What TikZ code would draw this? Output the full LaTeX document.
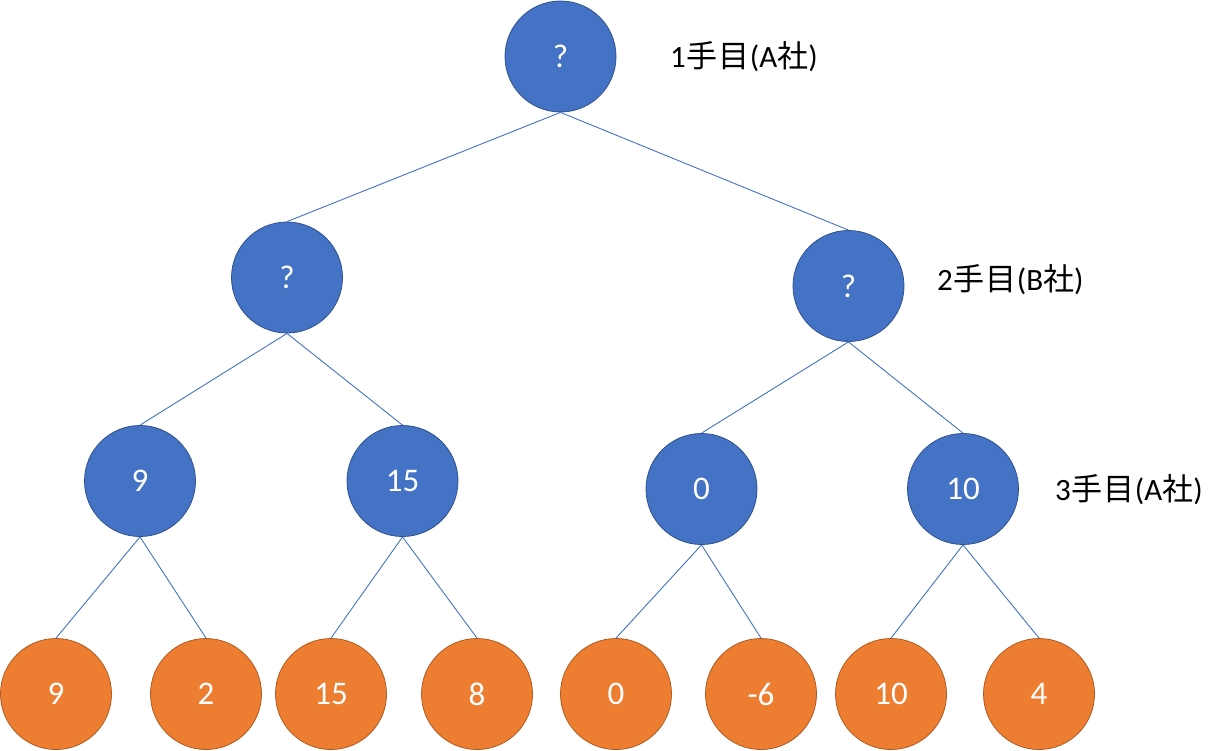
\documentclass[tikz,border=0pt]{standalone}
\usepackage{fontspec}
\setmainfont{Carlito}
\newfontfamily\jp{Noto Sans CJK JP}
\definecolor{nblue}{HTML}{4472C4}
\definecolor{nblueb}{HTML}{2F528F}
\definecolor{norange}{HTML}{ED7D31}
\definecolor{norangeb}{HTML}{AE5A21}
\tikzset{
  inner/.style={circle, fill=nblue, draw=nblueb, line width=0.8pt, minimum size=111pt, inner sep=0pt, text=white, font=\fontsize{33}{39}\selectfont},
  leaf/.style={circle, fill=norange, draw=norangeb, line width=0.8pt, minimum size=111pt, inner sep=0pt, text=white, font=\fontsize{33}{39}\selectfont},
  edge/.style={draw=nblue, line width=0.9pt},
  lvl/.style={anchor=west, inner sep=0pt, text=black, font=\fontsize{31}{37}\selectfont}
}
\begin{document}
\begin{tikzpicture}[x=1pt,y=-1pt]
\useasboundingbox (0,0) rectangle (1214,750);
\node[inner] (r) at (560.5,56.5) {?};
\node[inner] (a) at (287,277.5) {?};
\node[inner] (b) at (848.5,286) {?};
\node[inner] (a1) at (140,481) {9};
\node[inner] (a2) at (402.5,481) {15};
\node[inner] (b1) at (701.5,489) {0};
\node[inner] (b2) at (963,489) {10};
\node[leaf] (l1) at (56,694) {9};
\node[leaf] (l2) at (206,694) {2};
\node[leaf] (l3) at (331,694) {15};
\node[leaf] (l4) at (477,694) {8};
\node[leaf] (l5) at (616,694) {0};
\node[leaf] (l6) at (761,694) {-6};
\node[leaf] (l7) at (891,694) {10};
\node[leaf] (l8) at (1039,694) {4};
\draw[edge] (r.south) -- (a.north);
\draw[edge] (r.south) -- (b.north);
\draw[edge] (a.south) -- (a1.north);
\draw[edge] (a.south) -- (a2.north);
\draw[edge] (b.south) -- (b1.north);
\draw[edge] (b.south) -- (b2.north);
\draw[edge] (a1.south) -- (l1.north);
\draw[edge] (a1.south) -- (l2.north);
\draw[edge] (a2.south) -- (l3.north);
\draw[edge] (a2.south) -- (l4.north);
\draw[edge] (b1.south) -- (l5.north);
\draw[edge] (b1.south) -- (l6.north);
\draw[edge] (b2.south) -- (l7.north);
\draw[edge] (b2.south) -- (l8.north);
\node[lvl] (t1) at (670,57) {1{\jp\kern1pt 手\kern1pt 目}(A{\jp 社})};
\node[lvl] (t2) at (937,280) {2{\jp\kern1pt 手\kern1pt 目}(B{\jp 社})};
\node[lvl] (t3) at (1055,490) {3{\jp\kern1pt 手\kern1pt 目}(A{\jp 社})};
\end{tikzpicture}
\end{document}
